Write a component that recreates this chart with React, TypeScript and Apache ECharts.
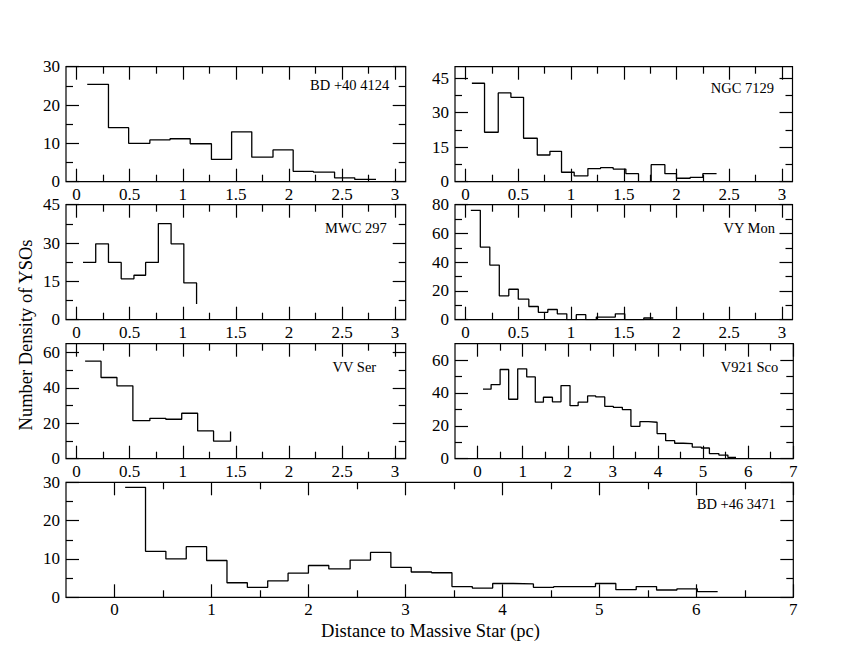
import React, { useEffect, useRef } from "react";
import * as echarts from "echarts";

// ---------- data ----------
const panelNames = ["BD +40 4124", "NGC 7129", "MWC 297", "VY Mon", "VV Ser", "V921 Sco", "BD +46 3471"];
const xTitle = "Distance to Massive Star (pc)";
const yTitle = "Number Density of YSOs";

const bd40Edges = [0.10, 0.30, 0.49, 0.69, 0.88, 1.07, 1.27, 1.46, 1.65, 1.85, 2.04, 2.23, 2.43, 2.62, 2.82];
const bd40Values = [25.4, 14.1, 10.0, 10.9, 11.2, 9.9, 5.8, 13.0, 6.4, 8.3, 2.7, 2.5, 1.0, 0.6];
const bd40End = 0.6;

const ngcEdges = [0.06, 0.18, 0.31, 0.43, 0.55, 0.68, 0.80, 0.91, 1.03, 1.16, 1.28, 1.40, 1.52, 1.64, 1.76, 1.89, 2.00, 2.13, 2.25, 2.38];
const ngcValues = [42.8, 21.5, 38.6, 36.7, 18.9, 11.6, 13.2, 4.1, 2.5, 5.7, 6.1, 5.5, 3.5, 0, 7.4, 3.5, 1.5, 1.9, 3.5];
const ngcEnd = 3.5;

const mwcEdges = [0.06, 0.18, 0.30, 0.42, 0.54, 0.65, 0.77, 0.89, 1.01, 1.13];
const mwcValues = [22.4, 29.7, 22.4, 16.0, 17.4, 22.4, 37.6, 29.7, 14.4];
const mwcEnd = 6.1;

const vyEdges = [0.05, 0.14, 0.23, 0.32, 0.41, 0.50, 0.60, 0.69, 0.78, 0.87, 0.96, 1.05, 1.14, 1.24, 1.33, 1.42, 1.51, 1.60, 1.69, 1.78];
const vyValues = [76.1, 50.5, 38.0, 16.6, 21.2, 14.3, 9.2, 5.1, 7.1, 4.1, 0, 3.5, 0, 1.8, 1.8, 4.1, 0, 0, 1.2];
const vyEnd = 1.2;

const vvEdges = [0.08, 0.23, 0.38, 0.53, 0.69, 0.84, 0.99, 1.14, 1.29, 1.45];
const vvValues = [55.1, 45.9, 41.2, 21.5, 22.8, 22.3, 25.7, 15.7, 9.9];
const vvEnd = 15.4;

const v921Edges = [0.12, 0.30, 0.50, 0.69, 0.89, 1.09, 1.28, 1.46, 1.66, 1.85, 2.05, 2.23, 2.44, 2.62, 2.82, 3.01, 3.21, 3.40, 3.60, 3.79, 3.98, 4.17, 4.37, 4.56, 4.76, 4.96, 5.14, 5.35, 5.55, 5.73];
const v921Values = [42.3, 45.1, 54.3, 36.2, 54.7, 49.8, 34.4, 37.4, 34.6, 44.5, 32.3, 34.4, 38.2, 37.6, 31.9, 31.3, 29.9, 19.7, 22.6, 22.2, 15.3, 11.0, 9.4, 9.2, 7.1, 6.5, 3.1, 2.2, 0.8];
const v921End = 0.8;

const bd46Edges = [0.11, 0.32, 0.53, 0.74, 0.95, 1.16, 1.37, 1.58, 1.79, 2.00, 2.21, 2.43, 2.64, 2.85, 3.06, 3.27, 3.48, 3.69, 3.90, 4.11, 4.32, 4.53, 4.74, 4.96, 5.17, 5.38, 5.59, 5.80, 6.01, 6.22];
const bd46Values = [28.7, 12.0, 10.0, 13.2, 9.6, 3.8, 2.6, 4.3, 6.3, 8.3, 7.4, 9.7, 11.7, 7.8, 6.6, 6.4, 2.8, 2.4, 3.6, 3.5, 2.6, 2.8, 2.8, 3.6, 2.0, 2.8, 1.9, 2.2, 1.5];
const bd46End = 1.5;

// tick values
const xMajor3 = [0, 0.5, 1, 1.5, 2, 2.5, 3];
const xMinor3 = [0.25, 0.75, 1.25, 1.75, 2.25, 2.75];
const xMajor7 = [0, 1, 2, 3, 4, 5, 6, 7];
const xMinor7 = [0.5, 1.5, 2.5, 3.5, 4.5, 5.5, 6.5];
const yMajor30 = [0, 10, 20, 30];
const yMinor30 = [5, 15, 25];
const yMajor45 = [0, 15, 30, 45];
const yMinor45 = [7.5, 22.5, 37.5];
const yMajor80 = [0, 20, 40, 60, 80];
const yMinor80 = [10, 30, 50, 70];
const yMajor60 = [0, 20, 40, 60];
const yMinor60 = [10, 30, 50];

// ---------- layout ----------
const FONT = "Liberation Serif";
const LEFT_X = 66;
const LEFT_W = 339.7;
const RIGHT_X = 455;
const RIGHT_W = 337.5;
const WIDE_W = 727.3;
const ROW_TOPS = [66.7, 204.7, 343.7, 482.3];
const PANEL_H = 115;

type Panel = {
  name: string; left: number; top: number; width: number;
  xMin: number; xMax: number; yMax: number;
  xMaj: number[]; xMin2: number[]; yMaj: number[]; yMin2: number[];
  edges: number[]; values: number[]; end: number; labelRight: number; labelDy: number;
};

const panels: Panel[] = [
  { name: panelNames[0], left: LEFT_X, top: ROW_TOPS[0], width: LEFT_W, xMin: -0.1, xMax: 3.1, yMax: 30,
    xMaj: xMajor3, xMin2: xMinor3, yMaj: yMajor30, yMin2: yMinor30, edges: bd40Edges, values: bd40Values, end: bd40End, labelRight: 16.5, labelDy: 18 },
  { name: panelNames[1], left: RIGHT_X, top: ROW_TOPS[0], width: RIGHT_W, xMin: -0.1, xMax: 3.1, yMax: 50,
    xMaj: xMajor3, xMin2: xMinor3, yMaj: yMajor45, yMin2: yMinor45, edges: ngcEdges, values: ngcValues, end: ngcEnd, labelRight: 18.5, labelDy: 21.5 },
  { name: panelNames[2], left: LEFT_X, top: ROW_TOPS[1], width: LEFT_W, xMin: -0.1, xMax: 3.1, yMax: 45,
    xMaj: xMajor3, xMin2: xMinor3, yMaj: yMajor45, yMin2: yMinor45, edges: mwcEdges, values: mwcValues, end: mwcEnd, labelRight: 19, labelDy: 23 },
  { name: panelNames[3], left: RIGHT_X, top: ROW_TOPS[1], width: RIGHT_W, xMin: -0.1, xMax: 3.1, yMax: 80,
    xMaj: xMajor3, xMin2: xMinor3, yMaj: yMajor80, yMin2: yMinor80, edges: vyEdges, values: vyValues, end: vyEnd, labelRight: 17.5, labelDy: 23 },
  { name: panelNames[4], left: LEFT_X, top: ROW_TOPS[2], width: LEFT_W, xMin: -0.1, xMax: 3.1, yMax: 65,
    xMaj: xMajor3, xMin2: xMinor3, yMaj: yMajor60, yMin2: yMinor60, edges: vvEdges, values: vvValues, end: vvEnd, labelRight: 29.5, labelDy: 23.5 },
  { name: panelNames[5], left: RIGHT_X, top: ROW_TOPS[2], width: RIGHT_W + 0.8, xMin: -0.5, xMax: 7, yMax: 70,
    xMaj: xMajor7, xMin2: xMinor7, yMaj: yMajor60, yMin2: yMinor60, edges: v921Edges, values: v921Values, end: v921End, labelRight: 15, labelDy: 23.5 },
  { name: panelNames[6], left: LEFT_X, top: ROW_TOPS[3], width: WIDE_W, xMin: -0.5, xMax: 7, yMax: 30,
    xMaj: xMajor7, xMin2: xMinor7, yMaj: yMajor30, yMin2: yMinor30, edges: bd46Edges, values: bd46Values, end: bd46End, labelRight: 17.5, labelDy: 22 },
];

function axis(kind: "x" | "y", gridIndex: number, position: string, min: number, max: number,
  ticks: number[], len: number, showLabel: boolean) {
  return {
    type: "value",
    gridIndex,
    position,
    min,
    max,
    axisLine: { show: false, onZero: false },
    splitLine: { show: false },
    minorTick: { show: false },
    axisTick: {
      show: true,
      inside: true,
      length: len,
      customValues: ticks,
      lineStyle: { color: "#000", width: 1.2 },
    },
    axisLabel: {
      show: showLabel,
      customValues: ticks,
      margin: kind === "x" ? 4 : 6,
      color: "#000",
      fontFamily: FONT,
      fontSize: 17,
    },
  };
}

function buildOption() {
  const grid: any[] = [];
  const xAxis: any[] = [];
  const yAxis: any[] = [];
  const series: any[] = [];
  const graphic: any[] = [];

  panels.forEach((p, i) => {
    const rect = { left: p.left, top: p.top, width: p.width, height: PANEL_H, outerBoundsMode: "none", containLabel: false };
    grid.push({ ...rect, show: true, borderColor: "#000", borderWidth: 1.2, backgroundColor: "transparent" });
    grid.push({ ...rect, show: false });
    const gMain = 2 * i;
    const gMinor = 2 * i + 1;
    xAxis.push(axis("x", gMain, "bottom", p.xMin, p.xMax, p.xMaj, 13, true));
    xAxis.push(axis("x", gMain, "top", p.xMin, p.xMax, p.xMaj, 13, false));
    xAxis.push(axis("x", gMinor, "bottom", p.xMin, p.xMax, p.xMin2, 7, false));
    xAxis.push(axis("x", gMinor, "top", p.xMin, p.xMax, p.xMin2, 7, false));
    yAxis.push(axis("y", gMain, "left", 0, p.yMax, p.yMaj, 13, true));
    yAxis.push(axis("y", gMain, "right", 0, p.yMax, p.yMaj, 13, false));
    yAxis.push(axis("y", gMinor, "left", 0, p.yMax, p.yMin2, 7, false));
    yAxis.push(axis("y", gMinor, "right", 0, p.yMax, p.yMin2, 7, false));

    const data = p.edges.map((e, k) => [e, k < p.values.length ? p.values[k] : p.end]);
    series.push({
      type: "line",
      name: p.name,
      xAxisIndex: 4 * i,
      yAxisIndex: 4 * i,
      step: "end",
      data,
      showSymbol: false,
      symbol: "none",
      clip: true,
      lineStyle: { color: "#000", width: 1.3 },
      silent: true,
    });

    graphic.push({
      type: "text",
      x: p.left + p.width - p.labelRight,
      y: p.top + p.labelDy,
      style: { text: p.name, font: `14.5px "${FONT}"`, fill: "#000", align: "right", verticalAlign: "middle" },
    });
  });

  graphic.push({
    type: "text",
    x: 430.5,
    y: 631,
    style: { text: xTitle, font: `18.5px "${FONT}"`, fill: "#000", align: "center", verticalAlign: "middle" },
  });
  graphic.push({
    type: "text",
    x: 26,
    y: 335,
    rotation: Math.PI / 2,
    style: { text: yTitle, font: `18.5px "${FONT}"`, fill: "#000", align: "center", verticalAlign: "middle" },
  });

  return { animation: false, backgroundColor: "#fff", grid, xAxis, yAxis, series, graphic };
}

export default function App() {
  const ref = useRef<HTMLDivElement | null>(null);
  useEffect(() => {
    if (!ref.current) return;
    const chart = echarts.init(ref.current, null, { renderer: "svg" });
    chart.setOption(buildOption() as any);
    return () => chart.dispose();
  }, []);
  return <div ref={ref} style={{ position: "fixed", left: 0, top: 0, width: 860, height: 664, background: "#fff" }} />;
}
